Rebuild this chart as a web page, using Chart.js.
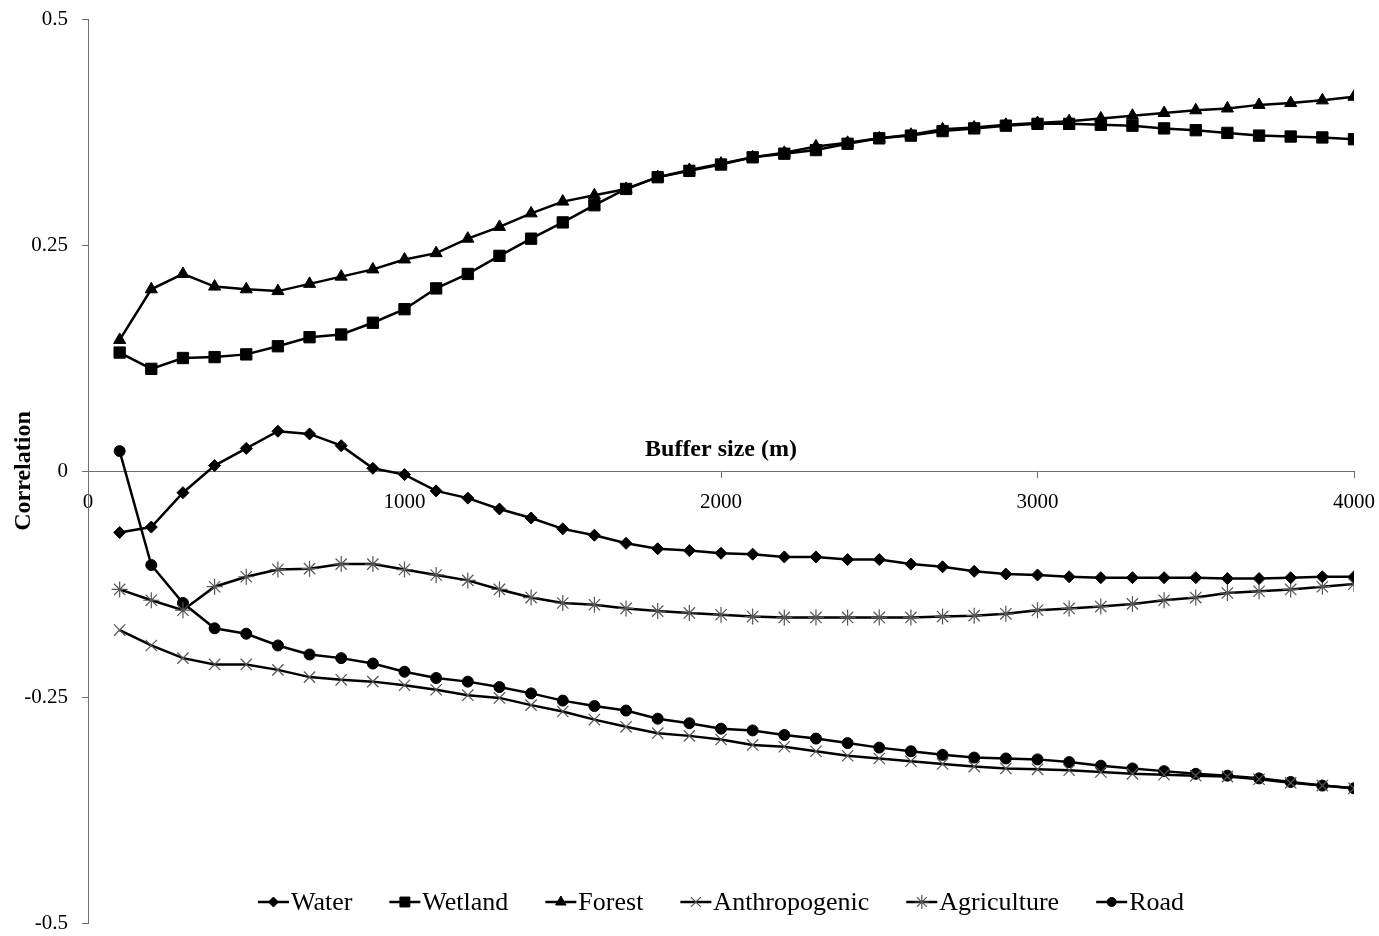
<!DOCTYPE html>
<html lang="en">
<head>
<meta charset="UTF-8">
<title>Correlation by buffer size</title>
<script src="https://cdn.jsdelivr.net/npm/chart.js"></script>
<style>
  html, body { margin: 0; padding: 0; background: #fff; }
  .chart-box { position: relative; width: 1379px; height: 936px; }
</style>
</head>
<body>
<div class="chart-box"><canvas id="corrChart"></canvas></div>
<script>
// buffer sizes (m)
const bufferSizes = [100, 200, 300, 400, 500, 600, 700, 800, 900, 1000,
  1100, 1200, 1300, 1400, 1500, 1600, 1700, 1800, 1900, 2000,
  2100, 2200, 2300, 2400, 2500, 2600, 2700, 2800, 2900, 3000,
  3100, 3200, 3300, 3400, 3500, 3600, 3700, 3800, 3900, 4000];

const water = [-0.068, -0.062, -0.024, 0.006, 0.025, 0.044, 0.041, 0.028, 0.003, -0.004,
  -0.022, -0.030, -0.042, -0.052, -0.064, -0.071, -0.080, -0.086, -0.088, -0.091,
  -0.092, -0.095, -0.095, -0.098, -0.098, -0.103, -0.106, -0.111, -0.114, -0.115,
  -0.117, -0.118, -0.118, -0.118, -0.118, -0.119, -0.119, -0.118, -0.117, -0.117];

const wetland = [0.131, 0.113, 0.125, 0.126, 0.129, 0.138, 0.148, 0.151, 0.164, 0.179,
  0.202, 0.218, 0.238, 0.257, 0.275, 0.294, 0.312, 0.325, 0.332, 0.339,
  0.347, 0.351, 0.355, 0.362, 0.368, 0.371, 0.376, 0.379, 0.382, 0.384,
  0.384, 0.383, 0.382, 0.379, 0.377, 0.374, 0.371, 0.370, 0.369, 0.367];

const forest = [0.145, 0.201, 0.218, 0.204, 0.201, 0.199, 0.207, 0.215, 0.223, 0.234,
  0.241, 0.257, 0.270, 0.285, 0.298, 0.305, 0.312, 0.325, 0.333, 0.340,
  0.347, 0.352, 0.359, 0.363, 0.368, 0.372, 0.378, 0.380, 0.383, 0.385,
  0.387, 0.390, 0.393, 0.396, 0.399, 0.401, 0.405, 0.407, 0.410, 0.414];

const anthropogenic = [-0.176, -0.193, -0.207, -0.214, -0.214, -0.220, -0.228, -0.231, -0.233, -0.237,
  -0.242, -0.248, -0.251, -0.259, -0.266, -0.275, -0.283, -0.290, -0.293, -0.297,
  -0.303, -0.305, -0.310, -0.315, -0.318, -0.321, -0.324, -0.327, -0.329, -0.330,
  -0.331, -0.333, -0.335, -0.336, -0.337, -0.338, -0.341, -0.345, -0.348, -0.351];

const agriculture = [-0.131, -0.143, -0.154, -0.128, -0.117, -0.109, -0.108, -0.103, -0.103, -0.109,
  -0.115, -0.121, -0.131, -0.140, -0.146, -0.148, -0.152, -0.155, -0.157, -0.159,
  -0.161, -0.162, -0.162, -0.162, -0.162, -0.162, -0.161, -0.160, -0.158, -0.154,
  -0.152, -0.150, -0.147, -0.143, -0.140, -0.135, -0.133, -0.131, -0.128, -0.125];

const road = [0.022, -0.104, -0.146, -0.174, -0.180, -0.193, -0.203, -0.207, -0.213, -0.222,
  -0.229, -0.233, -0.239, -0.246, -0.254, -0.260, -0.265, -0.274, -0.279, -0.285,
  -0.287, -0.292, -0.296, -0.301, -0.306, -0.310, -0.314, -0.317, -0.318, -0.319,
  -0.322, -0.326, -0.329, -0.332, -0.335, -0.337, -0.340, -0.344, -0.348, -0.351];

const xTicks = [0, 1000, 2000, 3000, 4000];
const yTicks = [-0.5, -0.25, 0, 0.25, 0.5];

const serif = 'Liberation Serif';
const axisGray = '#6f6f6f';

function toPoints(values) {
  return bufferSizes.map((b, i) => ({ x: b, y: values[i] }));
}

function series(label, values, style, radius, markColor, markWidth) {
  return {
    label: label,
    data: toPoints(values),
    borderColor: '#000',
    borderWidth: 2.5,
    tension: 0,
    pointStyle: style,
    pointRadius: radius,
    pointHoverRadius: radius,
    pointBackgroundColor: '#000',
    pointBorderColor: markColor,
    pointBorderWidth: markWidth
  };
}

// Excel-style legend laid over the bottom of the plot
const bottomLegend = {
  id: 'bottomLegend',
  afterDraw(chart) {
    const ctx = chart.ctx;
    const area = chart.chartArea;
    const y = area.bottom - 21;
    ctx.save();
    ctx.font = '26px "' + serif + '"';
    ctx.textBaseline = 'middle';
    const items = chart.data.datasets.map(ds => ({ ds: ds, w: 33 + ctx.measureText(ds.label).width }));
    const gap = 37;
    const total = items.reduce((s, it) => s + it.w, 0) + gap * (items.length - 1);
    let x = (area.left + area.right) / 2 - total / 2;
    items.forEach(it => {
      const ds = it.ds;
      ctx.strokeStyle = '#000';
      ctx.lineWidth = 2.5;
      ctx.beginPath();
      ctx.moveTo(x, y);
      ctx.lineTo(x + 31, y);
      ctx.stroke();
      ctx.fillStyle = ds.pointBackgroundColor;
      ctx.strokeStyle = ds.pointBorderColor;
      ctx.lineWidth = ds.pointBorderWidth;
      Chart.helpers.drawPoint(ctx, { pointStyle: ds.pointStyle, radius: ds.pointRadius - 1, rotation: 0, borderWidth: ds.pointBorderWidth }, x + 15.5, y);
      ctx.fillStyle = '#000';
      ctx.fillText(ds.label, x + 33, y + 1);
      x += it.w + gap;
    });
    ctx.restore();
  }
};

// x axis title sits above the axis line, which crosses at y = 0
const xTitle = {
  id: 'xTitle',
  afterDraw(chart) {
    const { ctx, scales } = chart;
    ctx.save();
    ctx.font = 'bold 24px "' + serif + '"';
    ctx.fillStyle = '#000';
    ctx.textAlign = 'center';
    ctx.textBaseline = 'alphabetic';
    ctx.fillText('Buffer size (m)', (scales.x.left + scales.x.right) / 2, scales.y.getPixelForValue(0) - 15);
    ctx.restore();
  }
};

Chart.defaults.font.family = serif;

new Chart(document.getElementById('corrChart'), {
  type: 'line',
  data: {
    datasets: [
      series('Water', water, 'rectRot', 6, '#000', 1),
      series('Wetland', wetland, 'rect', 8, '#000', 1),
      series('Forest', forest, 'triangle', 7, '#000', 1),
      series('Anthropogenic', anthropogenic, 'crossRot', 8, '#555', 1.2),
      series('Agriculture', agriculture, 'star', 8, '#555', 1.2),
      series('Road', road, 'circle', 5.5, '#000', 1)
    ]
  },
  options: {
    responsive: true,
    maintainAspectRatio: false,
    animation: false,
    layout: { padding: { top: 19, right: 25, bottom: 13, left: 0 } },
    plugins: {
      legend: { display: false },
      tooltip: { enabled: false }
    },
    scales: {
      x: {
        type: 'linear',
        min: 0,
        max: 4000,
        position: { y: 0 },
        afterBuildTicks: s => { s.ticks = xTicks.map(v => ({ value: v })); },
        afterFit: s => { s.paddingLeft = 0; s.paddingRight = 0; },
        grid: { drawOnChartArea: false, tickLength: 6, tickColor: axisGray },
        border: { color: axisGray, width: 1 },
        ticks: {
          color: '#000',
          font: { family: serif, size: 21 },
          padding: 13,
          maxRotation: 0,
          callback: v => String(v)
        }
      },
      y: {
        min: -0.5,
        max: 0.5,
        afterBuildTicks: s => { s.ticks = yTicks.map(v => ({ value: v })); },
        afterFit: s => { s.width = 88; s.paddingTop = 0; s.paddingBottom = 0; },
        grid: { drawOnChartArea: false, tickLength: 6, tickColor: axisGray },
        border: { color: axisGray, width: 1 },
        ticks: {
          color: '#000',
          font: { family: serif, size: 21 },
          padding: 14,
          callback: v => String(v)
        },
        title: {
          display: true,
          text: 'Correlation',
          color: '#000',
          font: { family: serif, size: 24, weight: 'bold' },
          padding: { top: 9, bottom: 0 }
        }
      }
    }
  },
  plugins: [bottomLegend, xTitle]
});
</script>
</body>
</html>
